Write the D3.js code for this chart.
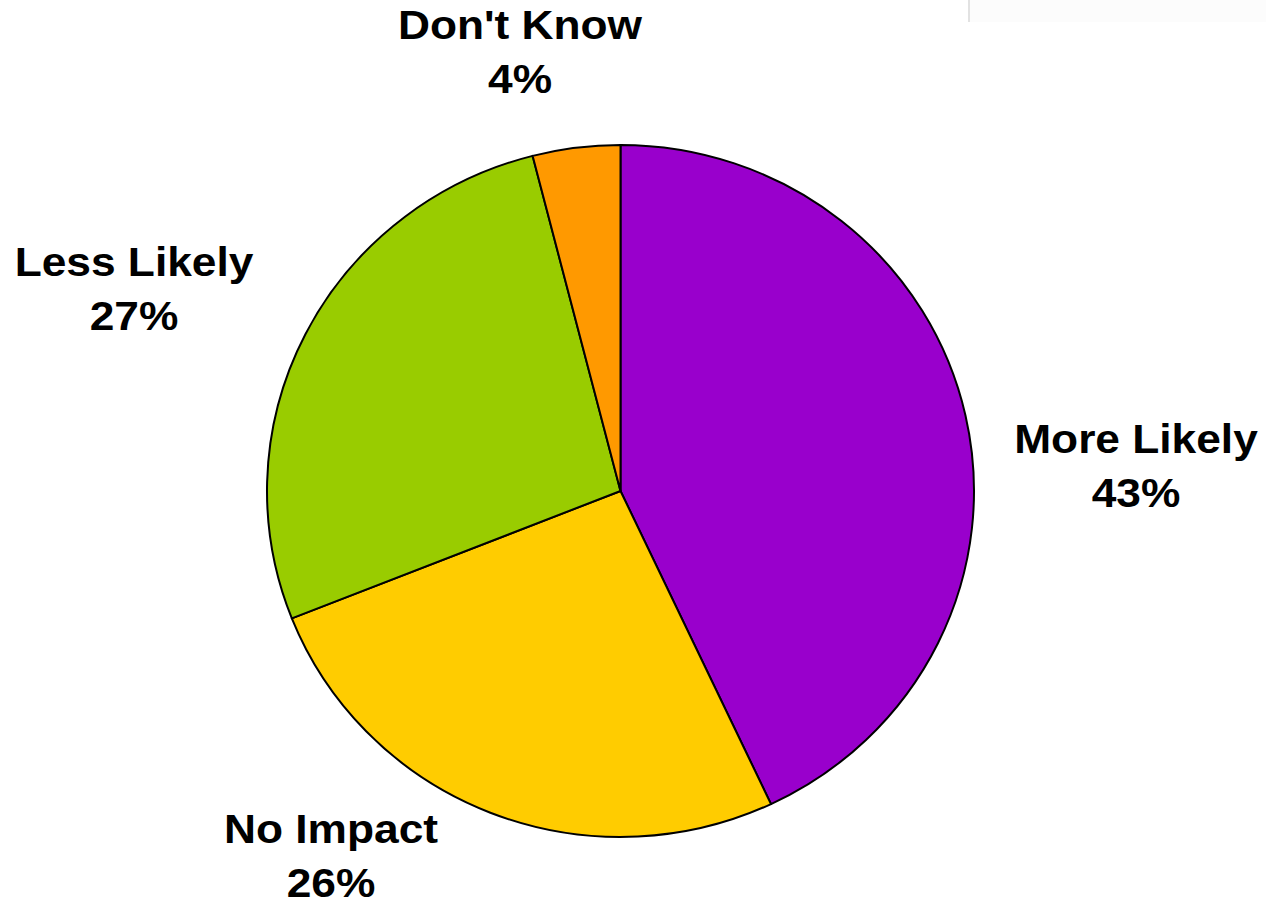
<!DOCTYPE html>
<html>
<head>
<meta charset="utf-8">
<script src="https://cdn.jsdelivr.net/npm/d3@7"></script>
<style>
  html, body { margin: 0; padding: 0; background: #fff; }
  svg { display: block; }
  text { font-family: "Liberation Sans", Arial, sans-serif; font-weight: bold; fill: #000; }
</style>
</head>
<body>
<script>
// Data
const categories = ["More Likely", "No Impact", "Less Likely", "Don't Know"];
const values = [43, 26, 27, 4];
const percentLabels = ["43%", "26%", "27%", "4%"];
const colors = ["#9900CC", "#FFCC00", "#99CC00", "#FF9900"];

// Layout (label anchor centers, first-line baseline)
const labelAnchors = [[1136, 453], [331, 843], [134, 276], [520, 39]];

const W = 1266, H = 902;
const cx = 620.5, cy = 491, rx = 353.5, ry = 346;

const svg = d3.select("body").append("svg").attr("width", W).attr("height", H);

// faint top-right panel
svg.append("rect").attr("x", 968).attr("y", 0).attr("width", W - 968).attr("height", 22).attr("fill", "#fcfcfc");
svg.append("rect").attr("x", 968).attr("y", 0).attr("width", 2).attr("height", 22).attr("fill", "#e2e2e2");

const pie = d3.pie().sort(null).value(d => d).startAngle(0).endAngle(2 * Math.PI);
const arcs = pie(values);
const arc = d3.arc().innerRadius(0).outerRadius(rx);

const g = svg.append("g").attr("transform", `translate(${cx},${cy}) scale(1,${ry / rx})`);
g.selectAll("path").data(arcs).join("path")
  .attr("d", arc)
  .attr("fill", (d, i) => colors[i])
  .attr("stroke", "#000")
  .attr("stroke-width", 2)
  .attr("stroke-linejoin", "round")
  .attr("vector-effect", "non-scaling-stroke");

const fs = 41;
const labels = svg.append("g");
categories.forEach((c, i) => {
  const [x, y] = labelAnchors[i];
  const t = labels.append("text").attr("text-anchor", "middle").attr("font-size", fs)
    .attr("transform", `translate(${x},${y}) scale(1.08,1)`);
  t.append("tspan").attr("x", 0).attr("y", 0).text(c);
  t.append("tspan").attr("x", 0).attr("y", 54).text(percentLabels[i]);
});
</script>
</body>
</html>
